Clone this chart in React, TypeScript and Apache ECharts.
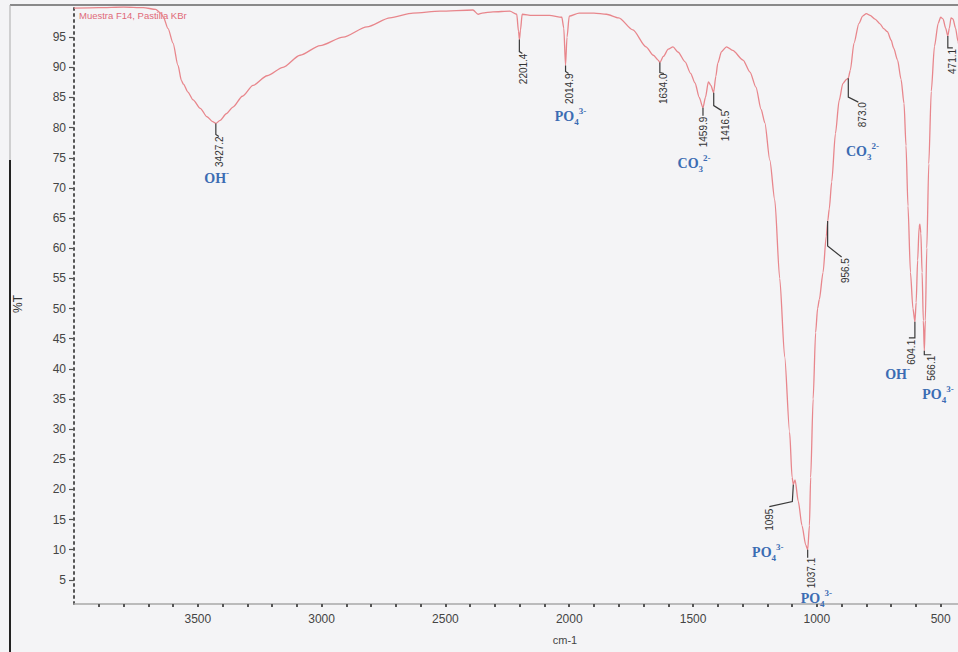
import React, { useEffect, useRef } from "react";
import * as echarts from "echarts";

// ---- Spectrum (wavenumber cm-1, %T) ----
const spectrumWN = [
  4000, 3900, 3800, 3720, 3670, 3650, 3640, 3620, 3600, 3580, 3566, 3558, 3540, 3519, 3490, 3463, 3440, 3427, 3410, 3385,
  3358, 3320, 3277, 3220, 3156, 3087, 3006, 2913, 2817, 2724, 2631, 2522, 2389, 2368, 2352, 2308, 2240, 2212, 2205, 2201,
  2197, 2190, 2150, 2080, 2030, 2022, 2015, 2009, 2000, 1960, 1900, 1850, 1800, 1743, 1690, 1660, 1641, 1634, 1620, 1600,
  1581, 1560, 1532, 1510, 1492, 1475, 1460, 1450, 1438, 1428, 1417, 1408, 1400, 1385, 1365, 1340, 1298, 1270, 1246, 1225,
  1210, 1190, 1170, 1150, 1130, 1110, 1100, 1095, 1088, 1075, 1060, 1045, 1037, 1030, 1025, 1015, 1005, 997, 990, 975,
  962, 956, 950, 940, 925, 910, 895, 880, 873, 865, 850, 830, 815, 800, 785, 765, 745, 730, 715, 700,
  690, 674, 660, 648, 640, 632, 622, 612, 604, 599, 593, 587, 584, 580, 575, 570, 566, 562, 556, 548,
  538, 525, 510, 500, 490, 480, 471, 465, 458, 450, 440, 430, 420, 400,
];
const spectrumT = [
  99.8, 99.9, 100, 99.9, 99.6, 99.0, 98.4, 96.4, 94.0, 90.3, 87.8, 87.2, 85.9, 84.6, 83.2, 81.8, 81.0, 80.7, 81.2, 82.3,
  83.4, 85.2, 87.0, 88.6, 90.0, 92.0, 93.6, 95.0, 96.7, 98.2, 99.0, 99.3, 99.5, 98.8, 99.0, 99.2, 99.3, 98.8, 96.0, 94.6,
  96.2, 98.8, 98.6, 98.6, 98.3, 96.5, 90.3, 95.0, 98.5, 99.0, 99.0, 98.8, 98.2, 96.2, 93.4, 92.0, 91.2, 90.8, 91.8, 93.0,
  93.4, 92.5, 90.9, 89.0, 87.4, 85.0, 83.3, 85.0, 87.6, 87.0, 85.8, 88.5, 90.7, 92.6, 93.4, 92.8, 91.2, 89.2, 86.7, 83.0,
  80.8, 74.6, 68.0, 55.0, 42.0, 29.5, 22.0, 20.8, 21.6, 18.0, 14.0, 10.8, 10.0, 14.0, 22.0, 35.0, 46.0, 50.0, 51.5, 56.0,
  62.0, 64.5, 66.5, 71.0, 79.0, 84.5, 87.3, 88.0, 88.2, 89.5, 94.0, 97.3, 98.5, 98.9, 98.6, 98.0, 97.2, 96.4, 95.9, 94.5,
  93.2, 91.2, 88.0, 84.0, 77.0, 67.0, 56.0, 50.0, 47.8, 51.0, 58.0, 63.5, 64.0, 62.5, 56.0, 48.0, 43.0, 48.0, 60.0, 74.0,
  86.0, 93.5, 97.3, 98.3, 98.0, 96.5, 95.2, 96.5, 98.2, 98.0, 96.5, 94.3, 92.0, 88.0,
];

// ---- Peak annotations ----
const peakLabels = ["3427.2", "2201.4", "2014.9", "1634.0", "1459.9", "1416.5", "1095", "1037.1", "956.5", "873.0", "604.1", "566.1", "471.1"];
const peakWN = [3427.2, 2201.4, 2014.9, 1634.0, 1459.9, 1416.5, 1095, 1037.1, 956.5, 873.0, 604.1, 566.1, 471.1];
const peakT = [80.7, 94.6, 90.3, 90.8, 83.3, 85.8, 20.8, 10.0, 64.5, 88.2, 47.8, 43.0, 95.2];

// ---- Ion annotations ----
const ionNames = ["OH{sup|-}", "PO{sub|4}{sup|3-}", "CO{sub|3}{sup|2-}", "CO{sub|3}{sup|2-}", "PO{sub|4}{sup|3-}", "PO{sub|4}{sup|3-}", "OH{sup|-}", "PO{sub|4}{sup|3-}"];
const ionWN = [3424, 1995, 1496, 816, 1198, 1002, 674, 511];
const ionT = [71.6, 81.9, 74.0, 76.0, 9.6, 1.9, 39.0, 35.7];

// ---- Axis ticks / labels ----
const xLabelValues = [3500, 3000, 2500, 2000, 1500, 1000, 500];
const xTickValues = [
  500, 600, 700, 800, 900, 1000, 1100, 1200, 1300, 1400, 1500, 1600, 1700, 1800, 1900, 2000, 2100, 2200, 2300, 2400,
  2500, 2600, 2700, 2800, 2900, 3000, 3100, 3200, 3300, 3400, 3500, 3600, 3700, 3800, 3900,
];
const yLabelValues = [5, 10, 15, 20, 25, 30, 35, 40, 45, 50, 55, 60, 65, 70, 75, 80, 85, 90, 95];

// leader-line layout (pixel offsets from the peak tip) — styling only
const leaderLayout: { path: number[][]; text: number[] }[] = [
  { path: [[0, 0], [0, 11], [3, 13]], text: [4, 13] },
  { path: [[0, 0], [0, 12], [3, 14]], text: [4, 14] },
  { path: [[0, 0], [0, 6], [3, 8]], text: [4, 8] },
  { path: [[0, 0], [0, 10], [4, 11]], text: [4, 11] },
  { path: [[0, 0], [0, 8]], text: [1, 9] },
  { path: [[0, 0], [0, 13], [8, 18]], text: [12, 18] },
  { path: [[0, 0], [-1, 17], [-24, 22]], text: [-24, 24] },
  { path: [[0, 0], [0, 8]], text: [4, 8] },
  { path: [[0, 0], [0, 25], [14, 36]], text: [18, 37] },
  { path: [[0, 0], [0, 19], [10, 24]], text: [14, 24] },
  { path: [[0, 0], [0, 16], [-6, 16]], text: [-3, 18] },
  { path: [[0, 0], [0, 4], [7, 4]], text: [7, 5] },
  { path: [[0, 0], [0, 12], [5, 12]], text: [5, 13] },
];

const LINE_COLOR = "#e8868c";
const ION_COLOR = "#3b6cb3";
const TEXT_COLOR = "#444";
const SANS = "Liberation Sans, Arial, sans-serif";

export default function App() {
  const ref = useRef<HTMLDivElement>(null);

  useEffect(() => {
    if (!ref.current) return;
    const chart = echarts.init(ref.current, null, { renderer: "svg" });

    const option: any = {
      animation: false,
      backgroundColor: "#f4f4f6",
      grid: { left: 74, right: 0, top: 7, bottom: 48, containLabel: false },
      xAxis: {
        type: "value",
        inverse: true,
        min: 430,
        max: 4000,
        splitLine: { show: false },
        axisLine: { show: true, lineStyle: { color: "#a8a8a8", width: 1.5 } },
        axisTick: { show: true, length: 3, customValues: xTickValues, lineStyle: { color: "#555", width: 2 } },
        axisLabel: {
          color: TEXT_COLOR,
          fontSize: 12,
          fontFamily: SANS,
          margin: 9,
          customValues: xLabelValues,
          formatter: (v: number) => String(v),
        },
      },
      yAxis: {
        type: "value",
        min: 1,
        max: 100,
        splitLine: { show: false },
        axisLine: { show: true, lineStyle: { color: "#555", width: 2, type: [2, 4] } },
        axisTick: { show: true, length: 5, customValues: yLabelValues, lineStyle: { color: "#555", width: 1.2 } },
        axisLabel: {
          color: TEXT_COLOR,
          fontSize: 12,
          fontFamily: SANS,
          margin: 8,
          customValues: yLabelValues,
          formatter: (v: number) => String(v),
        },
      },
      graphic: [
        { type: "line", shape: { x1: 10, y1: 5, x2: 958, y2: 5 }, style: { stroke: "#666", lineWidth: 1.5 } },
        { type: "line", shape: { x1: 10, y1: 5, x2: 10, y2: 160 }, style: { stroke: "#aaa", lineWidth: 1 } },
        { type: "line", shape: { x1: 10, y1: 160, x2: 10, y2: 652 }, style: { stroke: "#222", lineWidth: 2 } },
        {
          type: "text",
          left: 79,
          top: 10,
          style: { text: "Muestra F14, Pastilla KBr", fontSize: 9.5, fill: "#e06a78", fontFamily: SANS },
        },
        {
          type: "text",
          x: 18,
          y: 304,
          rotation: Math.PI / 2,
          style: { text: "%T", fontSize: 12, fill: "#333", align: "center", verticalAlign: "middle", fontFamily: SANS },
        },
        {
          type: "text",
          x: 565,
          y: 640,
          style: { text: "cm-1", fontSize: 11, fill: TEXT_COLOR, align: "center", verticalAlign: "middle", fontFamily: SANS },
        },
      ],
      series: [
        {
          type: "line",
          data: spectrumWN.map((w, i) => [w, spectrumT[i]]),
          showSymbol: false,
          smooth: 0.25,
          smoothMonotone: "x",
          lineStyle: { color: LINE_COLOR, width: 1.3 },
          z: 3,
        },
        {
          type: "custom",
          data: peakWN.map((w, i) => [w, peakT[i], i]),
          clip: false,
          z: 4,
          renderItem: (_p: any, api: any) => {
            const i = api.value(2);
            const pt = api.coord([api.value(0), api.value(1)]);
            const lay = leaderLayout[i];
            return {
              type: "group",
              children: [
                {
                  type: "polyline",
                  shape: { points: lay.path.map(([dx, dy]) => [pt[0] + dx, pt[1] + dy]) },
                  style: { stroke: "#3a3a3a", lineWidth: 1.2, fill: null },
                },
                {
                  type: "text",
                  x: pt[0] + lay.text[0],
                  y: pt[1] + lay.text[1],
                  rotation: Math.PI / 2,
                  style: {
                    text: peakLabels[i],
                    fontSize: 10,
                    fill: "#333",
                    align: "right",
                    verticalAlign: "middle",
                    fontFamily: SANS,
                  },
                },
              ],
            };
          },
        },
        {
          type: "custom",
          data: ionWN.map((w, i) => [w, ionT[i], i]),
          clip: false,
          z: 5,
          renderItem: (_p: any, api: any) => {
            const i = api.value(2);
            const pt = api.coord([api.value(0), api.value(1)]);
            return {
              type: "text",
              x: pt[0],
              y: pt[1],
              style: {
                text: ionNames[i],
                align: "center",
                verticalAlign: "middle",
                fontSize: 14,
                fontWeight: "bold",
                fontFamily: "Liberation Serif, Times New Roman, serif",
                fill: ION_COLOR,
                lineHeight: 20,
                rich: {
                  sub: { fontSize: 9, fontWeight: "bold", fontFamily: "Liberation Serif, serif", fill: ION_COLOR, color: ION_COLOR, verticalAlign: "bottom", lineHeight: 10 },
                  sup: { fontSize: 9, fontWeight: "bold", fontFamily: "Liberation Serif, serif", fill: ION_COLOR, color: ION_COLOR, verticalAlign: "top", lineHeight: 10 },
                },
              },
            };
          },
        },
      ],
    };

    chart.setOption(option);
    return () => chart.dispose();
  }, []);

  return (
    <div
      ref={ref}
      style={{ position: "absolute", left: 0, top: 0, width: 958, height: 652, background: "#f4f4f6" }}
    />
  );
}
